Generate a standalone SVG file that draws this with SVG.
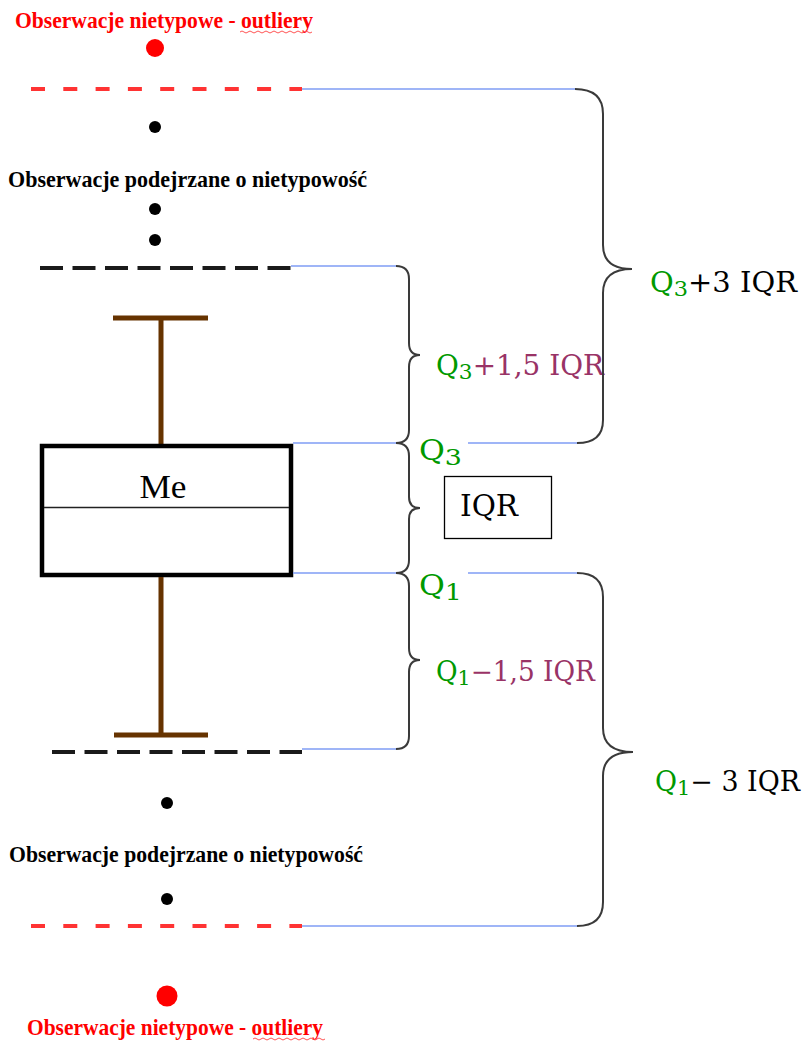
<svg xmlns="http://www.w3.org/2000/svg" width="809" height="1043" viewBox="0 0 809 1043">
  <style>
    .bold { font-family: "Liberation Serif", "Times New Roman", serif; font-weight: bold; font-size: 24px; }
    .red { fill: #ff0000; }
    .blk { fill: #000000; }
    .lbl { font-family: "DejaVu Serif", "Liberation Serif", serif; font-size: 27px; }
    .g { fill: #009900; }
    .p { fill: #993366; }
    .dash-red { stroke: #ff3333; stroke-width: 4; stroke-dasharray: 14 18.3; fill: none; }
    .dash-blk { stroke: #1a1a1a; stroke-width: 4; stroke-dasharray: 23 9.5; fill: none; }
    .blue { stroke: #7f9cf5; stroke-width: 1.3; fill: none; }
    .brace { stroke: #3a3a3a; stroke-width: 2; fill: none; }
    .whisk { stroke: #663300; stroke-width: 5; fill: none; }
    .wavy { stroke: #ff5555; stroke-width: 1; fill: none; }
  </style>

  <g id="top-outlier-label">
    <text class="bold red" x="15" y="28" textLength="298" lengthAdjust="spacingAndGlyphs">Obserwacje nietypowe - outliery</text>
    <path class="wavy" d="M240,32 q2,-2 4,0 t4,0 t4,0 t4,0 t4,0 t4,0 t4,0 t4,0 t4,0 t4,0 t4,0 t4,0 t4,0 t4,0 t4,0 t4,0 t4,0 t4,0"/>
  </g>
  <g id="top-outlier-dot"><circle cx="155" cy="48" r="9" fill="#ff0000"/></g>
  <g id="top-outer-fence"><line class="dash-red" x1="31" y1="89" x2="302" y2="89"/></g>
  <g id="top-suspect-dot1"><circle cx="155" cy="127" r="6" fill="#000"/></g>
  <g id="top-suspect-label"><text class="bold blk" x="8" y="187" textLength="359" lengthAdjust="spacingAndGlyphs">Obserwacje podejrzane o nietypowość</text></g>
  <g id="top-suspect-dot2"><circle cx="155" cy="209" r="6" fill="#000"/></g>
  <g id="top-suspect-dot3"><circle cx="155" cy="240" r="6" fill="#000"/></g>
  <g id="top-inner-fence"><line class="dash-blk" x1="40" y1="268" x2="291" y2="268"/></g>

  <g id="upper-whisker">
    <line class="whisk" x1="113" y1="318" x2="208" y2="318"/>
    <line class="whisk" x1="161" y1="318" x2="161" y2="444"/>
  </g>
  <g id="box">
    <rect x="42" y="446" width="249" height="129" fill="#fff" stroke="#000" stroke-width="4.5"/>
    <line x1="44" y1="507.5" x2="289" y2="507.5" stroke="#222" stroke-width="1.5"/>
    <text x="163" y="498" text-anchor="middle" font-family="Liberation Serif, Times New Roman, serif" font-size="33" fill="#000" textLength="47" lengthAdjust="spacingAndGlyphs">Me</text>
  </g>
  <g id="lower-whisker">
    <line class="whisk" x1="161" y1="577" x2="161" y2="735"/>
    <line class="whisk" x1="114" y1="735" x2="208" y2="735"/>
  </g>

  <g id="bottom-inner-fence"><line class="dash-blk" x1="52" y1="752" x2="302" y2="752"/></g>
  <g id="bottom-suspect-dot1"><circle cx="167" cy="803" r="6" fill="#000"/></g>
  <g id="bottom-suspect-label"><text class="bold blk" x="9" y="862" textLength="354" lengthAdjust="spacingAndGlyphs">Obserwacje podejrzane o nietypowość</text></g>
  <g id="bottom-suspect-dot2"><circle cx="167" cy="899" r="6" fill="#000"/></g>
  <g id="bottom-outer-fence"><line class="dash-red" x1="31" y1="926" x2="302" y2="926"/></g>
  <g id="bottom-outlier-dot"><circle cx="167" cy="996" r="10.5" fill="#ff0000"/></g>
  <g id="bottom-outlier-label">
    <text class="bold red" x="27" y="1035" textLength="296" lengthAdjust="spacingAndGlyphs">Obserwacje nietypowe - outliery</text>
    <path class="wavy" d="M253,1039 q2,-2 4,0 t4,0 t4,0 t4,0 t4,0 t4,0 t4,0 t4,0 t4,0 t4,0 t4,0 t4,0 t4,0 t4,0 t4,0 t4,0 t4,0 t4,0"/>
  </g>

  <g id="iqr-box">
    <rect x="444.5" y="476.5" width="107" height="62" fill="#fff" stroke="#000" stroke-width="1.3"/>
    <text x="460" y="516" font-family="DejaVu Serif, Liberation Serif, serif" font-size="29" fill="#000" textLength="58" lengthAdjust="spacingAndGlyphs">IQR</text>
  </g>

  <g id="label-q3-15"><text class="lbl" x="436" y="375" textLength="168" lengthAdjust="spacingAndGlyphs"><tspan class="g">Q</tspan><tspan class="g" font-size="21" dy="4">3</tspan><tspan class="p" dy="-4">+1,5 IQR</tspan></text></g>
  <g id="label-q3"><text class="lbl g" x="419" y="460" font-size="29" textLength="43" lengthAdjust="spacingAndGlyphs">Q<tspan font-size="23" dy="5">3</tspan></text></g>
  <g id="label-q1"><text class="lbl g" x="419" y="595" font-size="29" textLength="43" lengthAdjust="spacingAndGlyphs">Q<tspan font-size="23" dy="5">1</tspan></text></g>
  <g id="label-q1-15"><text class="lbl" x="436" y="681" textLength="159" lengthAdjust="spacingAndGlyphs"><tspan class="g">Q</tspan><tspan class="g" font-size="21" dy="4">1</tspan><tspan class="p" dy="-4">−1,5 IQR</tspan></text></g>
  <g id="label-q3-3"><text class="lbl" x="650" y="292" textLength="147" lengthAdjust="spacingAndGlyphs"><tspan class="g">Q</tspan><tspan class="g" font-size="21" dy="4">3</tspan><tspan fill="#000" dy="-4">+3 IQR</tspan></text></g>
  <g id="label-q1-3"><text class="lbl" x="655" y="791" textLength="145" lengthAdjust="spacingAndGlyphs"><tspan class="g">Q</tspan><tspan class="g" font-size="21" dy="4">1</tspan><tspan fill="#000" dy="-4">− 3 IQR</tspan></text></g>

  <g id="connectors">
    <line class="blue" x1="302" y1="89" x2="575" y2="89"/>
    <line class="blue" x1="291" y1="266" x2="397" y2="266"/>
    <line class="blue" x1="293" y1="443" x2="397" y2="443"/>
    <line class="blue" x1="468" y1="443" x2="577" y2="443"/>
    <line class="blue" x1="293" y1="573" x2="397" y2="573"/>
    <line class="blue" x1="468" y1="573" x2="577" y2="573"/>
    <line class="blue" x1="302" y1="749" x2="397" y2="749"/>
    <line class="blue" x1="302" y1="926" x2="577" y2="926"/>

    <path class="brace" d="M396,266 Q409,266 409,279 L409,343 Q409,355 420,355 Q409,355 409,367 L409,430 Q409,443 396,443"/>
    <path class="brace" d="M396,443 Q409,443 409,456 L409,497 Q409,508 420,508 Q409,508 409,519 L409,560 Q409,573 396,573"/>
    <path class="brace" d="M396,573 Q409,573 409,586 L409,648 Q409,660 420,660 Q409,660 409,672 L409,736 Q409,749 396,749"/>
    <path class="brace" d="M575,89 Q603,89 603,114 L603,245 Q603,269 632,269 Q603,269 603,293 L603,420 Q603,443 577,443"/>
    <path class="brace" d="M577,573 Q603,573 603,597 L603,728 Q603,752 633,752 Q603,752 603,776 L603,902 Q603,926 577,926"/>
  </g>
</svg>
